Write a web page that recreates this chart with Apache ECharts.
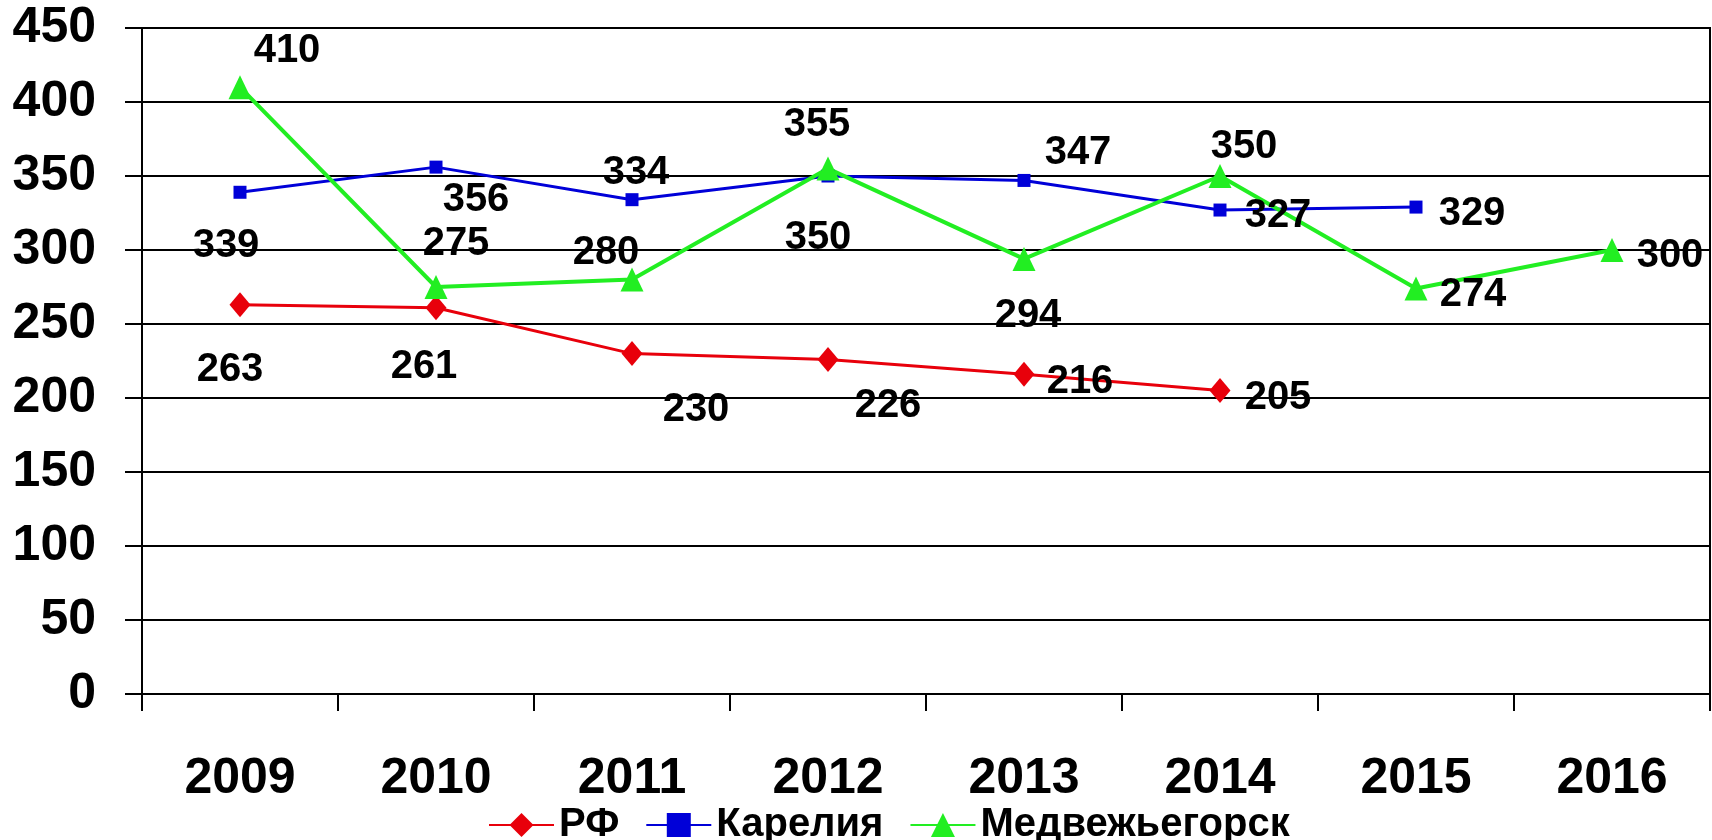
<!DOCTYPE html>
<html>
<head>
<meta charset="utf-8">
<script src="https://cdn.jsdelivr.net/npm/echarts@6/dist/echarts.min.js"></script>
<style>
  html, body { margin: 0; padding: 0; background: #ffffff; }
  #chart { width: 1712px; height: 840px; }
</style>
</head>
<body>
<div id="chart"></div>
<script>
// Years on the category axis
const years = ['2009', '2010', '2011', '2012', '2013', '2014', '2015', '2016'];

// Series values (null where a year has no value)
const rfValues = [263, 261, 230, 226, 216, 205, null, null];
const kareliaValues = [339, 356, 334, 350, 347, 327, 329, null];
const medvezhValues = [410, 275, 280, 355, 294, 350, 274, 300];

// Series names
const seriesNames = ['РФ', 'Карелия', 'Медвежьегорск'];

// Value axis range
const yMin = 0;
const yMax = 450;
const yStep = 50;

// Per-point label nudges (pixels from the marker centre), kept apart from the data
const rfLabelShift = [[-10, 65], [-12, 59], [64, 56], [60, 46], [56, 8], [58, 7], [0, 0], [0, 0]];
const kareliaLabelShift = [[-14, 54], [40, 33], [4, -27], [-10, 62], [54, -27], [58, 6], [56, 7], [0, 0]];
const medvezhLabelShift = [[47, -36], [20, -43], [-26, -27], [-11, -44], [4, 57], [24, -29], [57, 6], [58, 6]];

const FONT = '"Liberation Sans", Arial, sans-serif';

function withLabels(values, shifts) {
  return values.map((v, i) => (v === null ? '-' : {
    value: v,
    label: { offset: shifts[i] }
  }));
}

const pointLabel = {
  show: true,
  position: 'inside',
  align: 'center',
  verticalAlign: 'middle',
  color: '#000000',
  fontFamily: FONT,
  fontWeight: 'bold',
  fontSize: 40
};

const chart = echarts.init(document.getElementById('chart'), null, { renderer: 'canvas' });

chart.setOption({
  animation: false,
  backgroundColor: '#ffffff',
  grid: {
    left: 142,
    right: 2,
    top: 28,
    bottom: 146,
    show: true,
    borderColor: '#000000',
    borderWidth: 2
  },
  legend: {
    data: seriesNames,
    left: 483,
    top: 800,
    itemWidth: 65,
    itemHeight: 30,
    itemGap: 26,
    textStyle: {
      color: '#000000',
      fontFamily: FONT,
      fontWeight: 'bold',
      fontSize: 40
    }
  },
  xAxis: {
    type: 'category',
    data: years,
    boundaryGap: true,
    axisLine: { show: true, lineStyle: { color: '#000000', width: 2 } },
    axisTick: { show: true, length: 17, alignWithLabel: false, lineStyle: { color: '#000000', width: 2 } },
    axisLabel: {
      margin: 60,
      color: '#000000',
      fontFamily: FONT,
      fontWeight: 'bold',
      fontSize: 50
    },
    splitLine: { show: false }
  },
  yAxis: {
    type: 'value',
    min: yMin,
    max: yMax,
    interval: yStep,
    axisLine: { show: true, lineStyle: { color: '#000000', width: 2 } },
    axisTick: { show: true, length: 17, lineStyle: { color: '#000000', width: 2 } },
    axisLabel: {
      margin: 46,
      padding: [10, 0, 0, 0],
      color: '#000000',
      fontFamily: FONT,
      fontWeight: 'bold',
      fontSize: 50
    },
    splitLine: { show: true, lineStyle: { color: '#000000', width: 2 } }
  },
  series: [
    {
      name: seriesNames[0],
      type: 'line',
      data: withLabels(rfValues, rfLabelShift),
      symbol: 'diamond',
      symbolSize: [21, 25],
      itemStyle: { color: '#e8000b' },
      lineStyle: { color: '#e8000b', width: 3 },
      label: pointLabel
    },
    {
      name: seriesNames[1],
      type: 'line',
      data: withLabels(kareliaValues, kareliaLabelShift),
      symbol: 'rect',
      symbolSize: 13,
      itemStyle: { color: '#0000d8' },
      lineStyle: { color: '#0000d8', width: 3 },
      label: pointLabel
    },
    {
      name: seriesNames[2],
      type: 'line',
      data: withLabels(medvezhValues, medvezhLabelShift),
      symbol: 'triangle',
      symbolSize: [23, 24],
      itemStyle: { color: '#22ee22' },
      lineStyle: { color: '#22ee22', width: 4 },
      label: pointLabel
    }
  ]
});
</script>
</body>
</html>
